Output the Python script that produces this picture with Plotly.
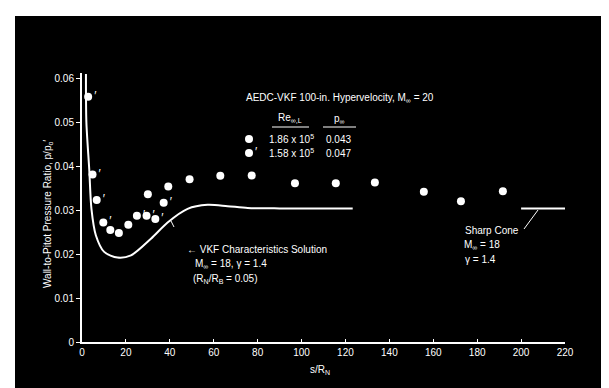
import plotly.graph_objects as go

# ---- data ----
circ_x = [12.9, 16.8, 21.1, 30.0, 39.3, 49.0, 63.0, 77.3, 97.0, 115.6, 133.4, 155.7, 172.6, 191.7]
circ_y = [0.0255, 0.0248, 0.0267, 0.0336, 0.0354, 0.0370, 0.0378, 0.0379, 0.0361, 0.0361, 0.0363, 0.0342, 0.0320, 0.0343]
flag_x = [2.8, 4.8, 6.7, 9.7, 25.0, 29.4, 33.4, 37.2]
flag_y = [0.0558, 0.0381, 0.0323, 0.0272, 0.0287, 0.0287, 0.0280, 0.0317]
sol_x = [1.8, 2.0, 3.3, 4.3, 6.3, 10.1, 16.2, 22.3, 31.4, 39.0, 48.1, 57.2, 66.3, 75.5, 90.0, 105.0, 123.3]
sol_y = [0.0610, 0.0500, 0.0393, 0.0303, 0.0243, 0.0205, 0.0192, 0.0197, 0.0235, 0.0272, 0.0303, 0.0312, 0.0309, 0.0305, 0.0304, 0.0304, 0.0304]
cone_x = [200.0, 220.0]
cone_y = [0.0304, 0.0304]
x_ticks = [0, 20, 40, 60, 80, 100, 120, 140, 160, 180, 200, 220]
y_ticks = [0, 0.01, 0.02, 0.03, 0.04, 0.05, 0.06]
y_labels = ["0", "0.01", "0.02", "0.03", "0.04", "0.05", "0.06"]

W, H = 609, 388
L, R, T, B = 74, 52, 65, 54
PW, PH = W - L - R, H - T - B

def px(x):
    return (x - L) / PW

def py(y):
    return (H - B - y) / PH

FONT = "Liberation Sans"
WHITE = "white"

fig = go.Figure()
fig.add_trace(go.Scatter(x=sol_x, y=sol_y, mode="lines", line=dict(color=WHITE, width=2, shape="spline", smoothing=0.8),
                         showlegend=False))
fig.add_trace(go.Scatter(x=cone_x, y=cone_y, mode="lines", line=dict(color=WHITE, width=2), showlegend=False))
fig.add_trace(go.Scatter(x=circ_x, y=circ_y, mode="markers", marker=dict(color=WHITE, size=8, symbol="circle"), showlegend=False))
fig.add_trace(go.Scatter(x=flag_x, y=flag_y, mode="markers+text", text=["′"] * len(flag_x), textposition="middle right",
                         textfont=dict(color=WHITE, size=12, family=FONT),
                         marker=dict(color=WHITE, size=8, symbol="circle"), showlegend=False))

# legend keys, drawn on a pixel-space overlay axis
fig.add_trace(go.Scatter(x=[241], y=[131], mode="markers", marker=dict(color=WHITE, size=8),
                         xaxis="x2", yaxis="y2", showlegend=False))
fig.add_trace(go.Scatter(x=[241], y=[145], mode="markers+text", text=["′"], textposition="middle right",
                         textfont=dict(color=WHITE, size=12, family=FONT),
                         marker=dict(color=WHITE, size=8), xaxis="x2", yaxis="y2", showlegend=False))

fig.update_layout(
    width=W, height=H,
    margin=dict(l=L, r=R, t=T, b=B),
    paper_bgcolor="white", plot_bgcolor="black",
    font=dict(family=FONT, size=10, color=WHITE),
    showlegend=False,
    xaxis2=dict(overlaying="x", range=[L, W - R], visible=False, showgrid=False, zeroline=False),
    yaxis2=dict(overlaying="y", range=[H - B, T], visible=False, showgrid=False, zeroline=False),
)
fig.update_xaxes(selector=dict(overlaying=None))
fig.update_layout(
    xaxis=dict(range=[0, 220], tickvals=x_ticks, ticktext=[str(v) for v in x_ticks],
               showgrid=False, zeroline=False, showline=True, linecolor=WHITE, linewidth=2,
               ticks="inside", ticklen=3, tickcolor=WHITE, tickfont=dict(color=WHITE, size=10, family=FONT)),
    yaxis=dict(range=[0, 0.0612], tickvals=y_ticks, ticktext=y_labels,
               showgrid=False, zeroline=False, showline=True, linecolor=WHITE, linewidth=2,
               ticks="outside", ticklen=4, tickcolor=WHITE, tickfont=dict(color=WHITE, size=10, family=FONT)),
)

shapes = [
    dict(type="rect", xref="paper", yref="paper", x0=px(7), x1=px(602), y0=py(388), y1=py(8),
         fillcolor="black", line=dict(width=0), layer="below"),
    dict(type="line", xref="paper", yref="paper", x0=px(264), x1=px(301), y0=py(119), y1=py(119),
         line=dict(color=WHITE, width=1)),
    dict(type="line", xref="paper", yref="paper", x0=px(315), x1=px(348), y0=py(119), y1=py(119),
         line=dict(color=WHITE, width=1)),
    dict(type="line", xref="paper", yref="paper", x0=px(516), x1=px(530), y0=py(221), y1=py(202),
         line=dict(color=WHITE, width=1)),
    dict(type="line", xref="paper", yref="paper", x0=px(163), x1=px(166), y0=py(213), y1=py(219),
         line=dict(color=WHITE, width=1)),
]
fig.update_layout(shapes=shapes)

def ann(text, x, y, xanchor="left", size=10, **kw):
    return dict(text=text, x=px(x), y=py(y), xref="paper", yref="paper", xanchor=xanchor, yanchor="middle",
                showarrow=False, borderpad=0, font=dict(color=WHITE, size=size, family=FONT), **kw)

annotations = [
    ann("AEDC-VKF 100-in. Hypervelocity, M<sub>∞</sub> = 20", 332, 90, "center"),
    ann("Re<sub>∞,L</sub>", 282, 110, "center"),
    ann("p<sub>∞</sub>", 331, 111, "center"),
    ann("1.86 x 10<sup>5</sup>", 260, 131),
    ann("1.58 x 10<sup>5</sup>", 260, 145),
    ann("0.043", 330, 131, "center"),
    ann("0.047", 330, 145, "center"),
    ann("← VKF Characteristics Solution", 178, 241),
    ann("M<sub>∞</sub> = 18, γ = 1.4", 186, 256),
    ann("(R<sub>N</sub>/R<sub>B</sub> = 0.05)", 184, 271),
    ann("Sharp Cone", 456, 222),
    ann("M<sub>∞</sub> = 18", 455, 237),
    ann("γ = 1.4", 456, 251),
    ann("s/R<sub>N</sub>", 312, 362, "center"),
    ann("Wall-to-Pitot Pressure Ratio, p/p<sub>o</sub>′", 40, 206, "center", textangle=-90),
]
fig.update_layout(annotations=annotations)

fig.write_html("out.html")
